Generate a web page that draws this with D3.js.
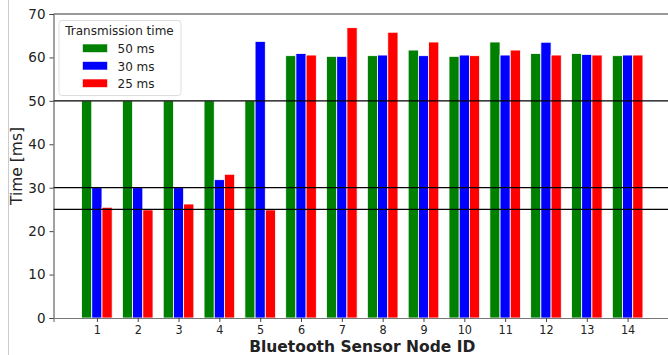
<!DOCTYPE html>
<html lang="en">
<head>
<meta charset="utf-8">
<script src="https://cdn.jsdelivr.net/npm/d3@7/dist/d3.min.js"></script>
<style>
  body { margin: 0; background: #fff; }
  text { font-family: "DejaVu Sans", sans-serif; fill: #222; }
</style>
</head>
<body>
<script>
// node ids and measured times per transmission setting
var nodes = [1, 2, 3, 4, 5, 6, 7, 8, 9, 10, 11, 12, 13, 14];
var series = ["50 ms", "30 ms", "25 ms"];
var colors = ["green", "blue", "red"];
var t50 = [50, 50, 50, 50, 50, 60.4, 60.25, 60.4, 61.7, 60.25, 63.55, 60.9, 60.9, 60.4];
var t30 = [30, 30, 30, 31.85, 63.7, 60.9, 60.25, 60.55, 60.4, 60.55, 60.55, 63.5, 60.7, 60.55];
var t25 = [25.5, 24.9, 26.25, 33.1, 24.9, 60.55, 66.85, 65.8, 63.55, 60.4, 61.7, 60.55, 60.55, 60.55];
var refLines = [50, 30, 25];
var yTicks = [0, 10, 20, 30, 40, 50, 60, 70];

var values = [t50, t30, t25];

var W = 668, H = 355;
var margin = {left: 53.5, top: 14, right: -3, bottom: 37};
var w = W - margin.left - margin.right, h = H - margin.top - margin.bottom;

var svg = d3.select("body").append("svg")
  .attr("width", W).attr("height", H);

// faint figure border on the left
svg.append("line").attr("x1", 8.5).attr("x2", 8.5).attr("y1", 0).attr("y2", H)
  .attr("stroke", "#ccc").attr("stroke-width", 1);

var g = svg.append("g").attr("transform", "translate(" + margin.left + "," + margin.top + ")");

var bw = 0.25;
var x = d3.scaleLinear().domain([-0.0625, 15.0625]).range([0, w]);
var y = d3.scaleLinear().domain([0, 70]).range([h, 0]);

// bars
series.forEach(function(s, k) {
  g.selectAll(".bar" + k)
    .data(values[k])
    .enter().append("rect")
    .attr("x", function(d, i) { return x(nodes[i] + (k - 1.5) * bw); })
    .attr("width", x(bw) - x(0))
    .attr("y", function(d) { return y(d); })
    .attr("height", function(d) { return y(0) - y(d); })
    .attr("fill", colors[k])
    .attr("stroke", "#fff")
    .attr("stroke-width", 0.8);
});

// reference lines
g.selectAll(".ref").data(refLines).enter().append("line")
  .attr("x1", 0).attr("x2", w)
  .attr("y1", function(d) { return y(d); }).attr("y2", function(d) { return y(d); })
  .attr("stroke", "#000").attr("stroke-width", 1.3);

// spines
g.append("line").attr("x1", 0).attr("x2", w).attr("y1", 0).attr("y2", 0)
  .attr("stroke", "#777").attr("stroke-width", 1.5);

var yAxis = g.append("g").call(d3.axisLeft(y).tickValues(yTicks).tickSize(4).tickPadding(4));
yAxis.select(".domain").attr("stroke", "#444").attr("stroke-width", 1);
yAxis.selectAll(".tick line").attr("stroke", "#444");
yAxis.selectAll("text").style("font-size", "13.5px").style("fill", "#222");

var xAxis = g.append("g").attr("transform", "translate(0," + h + ")")
  .call(d3.axisBottom(x).tickValues(nodes).tickSize(4).tickPadding(3).tickFormat(d3.format("d")));
xAxis.select(".domain").attr("stroke", "#777").attr("stroke-width", 1.2);
xAxis.selectAll(".tick line").attr("stroke", "#444");
xAxis.selectAll("text").style("font-size", "12.5px").style("fill", "#222")
  .attr("transform", "scale(0.9,1)")
  .attr("x", function() { return 0; });

// axis labels
svg.append("text")
  .attr("transform", "translate(21.5," + (margin.top + h / 2) + ") rotate(-90)")
  .attr("text-anchor", "middle")
  .style("font-size", "15.5px")
  .text("Time [ms]");

svg.append("text")
  .attr("x", margin.left + (x(15.0625) + x(-0.0625)) / 2)
  .attr("y", 352)
  .attr("text-anchor", "middle")
  .style("font-size", "15.5px").style("font-weight", "bold")
  .text("Bluetooth Sensor Node ID");

// legend
var lg = g.append("g").attr("transform", "translate(5,6)");
lg.append("rect").attr("x", 0.5).attr("y", 0.5).attr("width", 122).attr("height", 75)
  .attr("rx", 3).attr("fill", "#fff").attr("fill-opacity", 0.85)
  .attr("stroke", "#ddd");
lg.append("text").attr("x", 61).attr("y", 15).attr("text-anchor", "middle")
  .style("font-size", "12px").text("Transmission time");
series.forEach(function(s, k) {
  lg.append("rect").attr("x", 24).attr("y", 24 + k * 17.5).attr("width", 25).attr("height", 8.5)
    .attr("fill", colors[k]).attr("stroke", "#fff").attr("stroke-width", 0.6);
  lg.append("text").attr("x", 59).attr("y", 33 + k * 17.5)
    .style("font-size", "12px").text(s);
});
</script>
</body>
</html>
